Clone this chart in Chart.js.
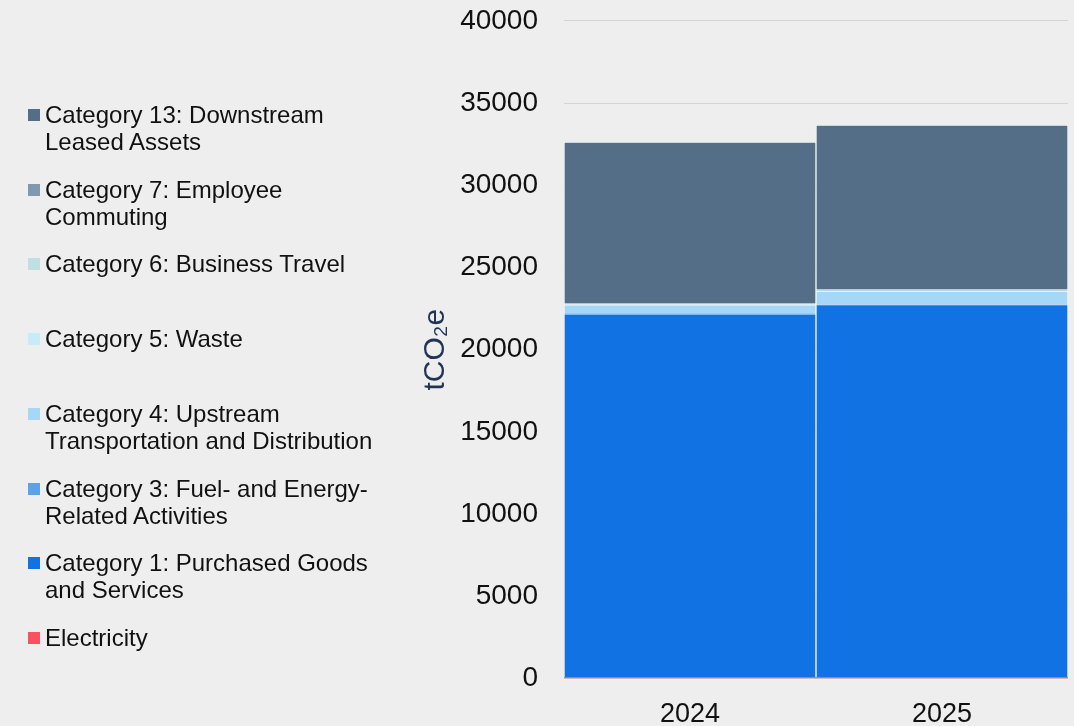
<!DOCTYPE html>
<html>
<head>
<meta charset="utf-8">
<script src="https://cdn.jsdelivr.net/npm/chart.js@4"></script>
<style>
  html, body { margin: 0; padding: 0; background: #eeeeee; overflow: hidden; }
  #wrap { position: relative; width: 1074px; height: 726px; overflow: hidden; }
  #chart { position: absolute; left: 0; top: -22px; }
  #legend { position: absolute; left: 28px; top: 0; font-family: "Liberation Sans", Arial, sans-serif; font-size: 24px; color: #111; }
  .item { position: absolute; left: 0; width: 380px; line-height: 27px; padding-left: 17px; }
  .box { position: absolute; left: 0; top: 8px; width: 12px; height: 12px; }
</style>
</head>
<body>
<div id="wrap">
  <canvas id="chart" width="1074" height="765"></canvas>
  <div id="legend"></div>
</div>
<script>
// Données
const years = ['2024', '2025'];
const electricity = [60, 60];
const cat1 = [22120, 22680];
const cat3 = [20, 20];
const cat4 = [530, 800];
const cat5 = [10, 10];
const cat6 = [20, 20];
const cat7 = [60, 70];
const cat13 = [9800, 10000];
const yTicks = [0, 5000, 10000, 15000, 20000, 25000, 30000, 35000, 40000];

const series = [
    { label: 'Electricity', data: electricity, color: '#fa505f' },
    { label: 'Category 1: Purchased Goods and Services', data: cat1, color: '#1172e4' },
    { label: 'Category 3: Fuel- and Energy-Related Activities', data: cat3, color: '#5aa3ea' },
    { label: 'Category 4: Upstream Transportation and Distribution', data: cat4, color: '#a6d7f7' },
    { label: 'Category 5: Waste', data: cat5, color: '#c7ebf9' },
    { label: 'Category 6: Business Travel', data: cat6, color: '#c0dfe3' },
    { label: 'Category 7: Employee Commuting', data: cat7, color: '#7f9aae' },
    { label: 'Category 13: Downstream Leased Assets', data: cat13, color: '#546e87' }
];

// Légende (ordre inversé, comme dans l'original)
const legendLines = {
    'Category 13: Downstream Leased Assets': ['Category 13: Downstream', 'Leased Assets'],
    'Category 7: Employee Commuting': ['Category 7: Employee', 'Commuting'],
    'Category 6: Business Travel': ['Category 6: Business Travel'],
    'Category 5: Waste': ['Category 5: Waste'],
    'Category 4: Upstream Transportation and Distribution': ['Category 4: Upstream', 'Transportation and Distribution'],
    'Category 3: Fuel- and Energy-Related Activities': ['Category 3: Fuel- and Energy-', 'Related Activities'],
    'Category 1: Purchased Goods and Services': ['Category 1: Purchased Goods', 'and Services'],
    'Electricity': ['Electricity']
};
const legend = document.getElementById('legend');
series.slice().reverse().forEach((s, i) => {
    const div = document.createElement('div');
    div.className = 'item';
    div.style.top = (101 + i * 74.7) + 'px';
    div.innerHTML = '<span class="box" style="background:' + s.color + '"></span>' + legendLines[s.label].join('<br>');
    legend.appendChild(div);
});

const ctx = document.getElementById('chart').getContext('2d');
new Chart(ctx, {
    type: 'bar',
    data: {
        labels: years,
        datasets: series.map((s, i) => ({
            label: s.label,
            data: s.data,
            backgroundColor: s.color,
            // l'électricité : juste un filet rouge en bas
            borderColor: i === 0 ? s.color : 'rgba(255,255,255,0.55)',
            borderWidth: i === 0 ? 0 : 1,
            barPercentage: 1,
            categoryPercentage: 1
        }))
    },
    options: {
        responsive: false,
        animation: false,
        layout: { padding: { left: 410, right: 6, top: 0, bottom: 0 } },
        plugins: { legend: { display: false }, tooltip: { enabled: false } },
        scales: {
            x: {
                stacked: true,
                grid: { display: false },
                border: { display: false },
                ticks: { color: '#111', font: { family: 'Liberation Sans', size: 27 }, padding: 12 }
            },
            y: {
                stacked: true,
                min: 0,
                max: 40000,
                afterBuildTicks: axis => { axis.ticks = yTicks.map(v => ({ value: v })); },
                afterFit: axis => { axis.width = 154; },
                grid: { color: '#d4d4d4', drawTicks: false },
                border: { display: false },
                ticks: {
                    color: '#111',
                    font: { family: 'Liberation Sans', size: 28 },
                    padding: 26,
                    callback: v => String(v)
                },
                title: {
                    display: true,
                    text: 'tCO₂e',
                    color: '#1f3553',
                    font: { family: 'Liberation Sans', size: 30 },
                    padding: { top: 8, bottom: 8 }
                }
            }
        }
    }
});
</script>
</body>
</html>
